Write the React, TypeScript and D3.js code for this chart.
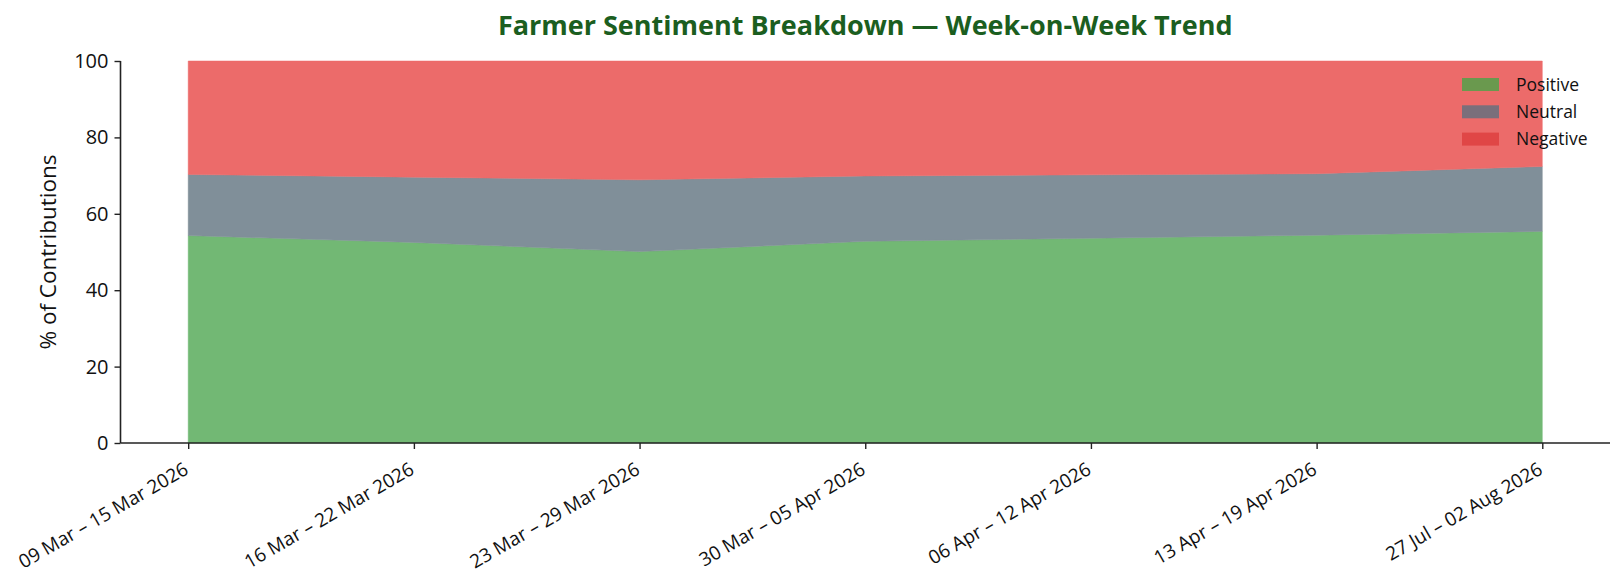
import { useEffect, useRef } from "react";
import * as d3 from "d3";

// weekly buckets
const weeks = [
  "09 Mar – 15 Mar 2026",
  "16 Mar – 22 Mar 2026",
  "23 Mar – 29 Mar 2026",
  "30 Mar – 05 Apr 2026",
  "06 Apr – 12 Apr 2026",
  "13 Apr – 19 Apr 2026",
  "27 Jul – 02 Aug 2026",
];

// % of contributions per week
const positive = [54.3, 52.5, 50.1, 52.8, 53.6, 54.4, 55.4];
const neutral = [16.0, 17.1, 18.8, 17.1, 16.6, 16.1, 17.0];
const negative = [29.7, 30.4, 31.1, 30.1, 29.8, 29.5, 27.6];

const yTicks = [0, 20, 40, 60, 80, 100];

const seriesKeys = ["Positive", "Neutral", "Negative"];
const areaColors = ["#72b874", "#808f99", "#ec6b6a"];
const legendColors = ["#6a994e", "#7a6f7b", "#e04646"];

const FONT = "'Open Sans', 'Noto Sans', sans-serif";

const App = () => {
  const svgRef = useRef<SVGSVGElement>(null);

  useEffect(() => {
    if (!svgRef.current) return;
    const svg = d3.select(svgRef.current);
    svg.selectAll("*").remove();

    const W = 1624;
    const H = 583;
    const left = 120.5;
    const right = 1610;
    const top = 61;
    const bottom = 443;

    svg.attr("width", W).attr("height", H);

    const rows = weeks.map((w, i) => ({
      week: i,
      Positive: positive[i],
      Neutral: neutral[i],
      Negative: negative[i],
    }));

    const x = d3.scaleLinear().domain([-0.3, weeks.length - 1 + 0.3]).range([left, right]);
    const y = d3.scaleLinear().domain([0, 100]).range([bottom, top]);

    const stacked = d3.stack<(typeof rows)[0]>().keys(seriesKeys)(rows);

    const area = d3
      .area<d3.SeriesPoint<(typeof rows)[0]>>()
      .x((d) => x(d.data.week))
      .y0((d) => y(d[0]))
      .y1((d) => y(d[1]));

    svg
      .append("g")
      .selectAll("path")
      .data(stacked)
      .join("path")
      .attr("d", area)
      .attr("fill", (_, i) => areaColors[i])
      .attr("stroke", (_, i) => areaColors[i])
      .attr("stroke-width", 0.5);

    // y axis
    const yAxis = svg
      .append("g")
      .attr("transform", `translate(${left},0)`)
      .call(d3.axisLeft(y).tickValues(yTicks).tickSize(6).tickPadding(6).tickFormat((d) => `${d}`));
    yAxis.select(".domain").attr("stroke", "#222").attr("stroke-width", 1.6).attr("d", `M0,${bottom}V${top}`);
    yAxis.selectAll(".tick line").attr("stroke", "#222").attr("stroke-width", 1.4);
    yAxis
      .selectAll(".tick text")
      .attr("font-family", FONT)
      .attr("font-size", 20)
      .attr("fill", "#111");

    // x axis
    const xAxis = svg
      .append("g")
      .attr("transform", `translate(0,${bottom})`)
      .call(
        d3
          .axisBottom(x)
          .tickValues(d3.range(weeks.length))
          .tickSize(6)
          .tickFormat((d) => weeks[d as number]),
      );
    xAxis.select(".domain").attr("stroke", "#222").attr("stroke-width", 1.6).attr("d", `M${left},0H${right}`);
    xAxis.selectAll(".tick line").attr("stroke", "#222").attr("stroke-width", 1.4);
    xAxis
      .selectAll(".tick text")
      .attr("font-family", FONT)
      .attr("font-size", 19)
      .attr("fill", "#111")
      .attr("text-anchor", "end")
      .attr("dy", null)
      .attr("y", null)
      .attr("transform", "translate(1,30) rotate(-30)");

    // y label
    svg
      .append("text")
      .attr("transform", `translate(56,${(top + bottom) / 2}) rotate(-90)`)
      .attr("text-anchor", "middle")
      .attr("font-family", FONT)
      .attr("font-size", 22.5)
      .attr("fill", "#111")
      .text("% of Contributions");

    // title
    svg
      .append("text")
      .attr("x", (left + right) / 2)
      .attr("y", 35)
      .attr("text-anchor", "middle")
      .attr("font-family", FONT)
      .attr("font-weight", 700)
      .attr("font-size", 27)
      .attr("fill", "#1b5e20")
      .text("Farmer Sentiment Breakdown — Week-on-Week Trend");

    // legend
    const legend = svg.append("g").attr("transform", "translate(1462,78)");
    seriesKeys.forEach((k, i) => {
      const row = legend.append("g").attr("transform", `translate(0,${i * 27.3})`);
      row.append("rect").attr("width", 37).attr("height", 13).attr("fill", legendColors[i]);
      row
        .append("text")
        .attr("x", 54)
        .attr("y", 6.5)
        .attr("dy", "0.35em")
        .attr("font-family", FONT)
        .attr("font-size", 17.5)
        .attr("fill", "#111")
        .text(k);
    });
  }, []);

  return <svg ref={svgRef} style={{ display: "block", margin: "-8px" }} />;
};

export default App;
